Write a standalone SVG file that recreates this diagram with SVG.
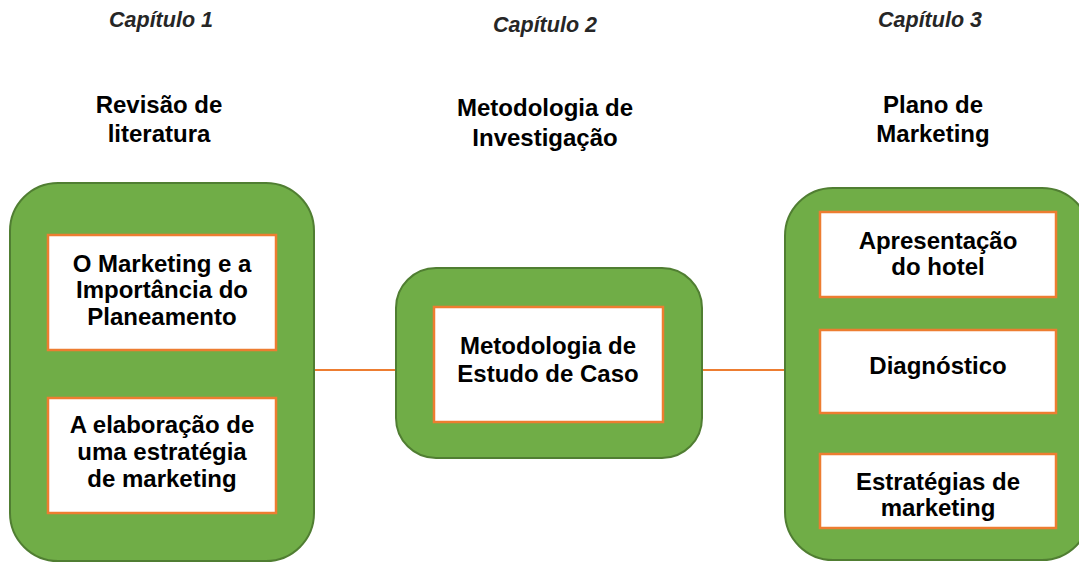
<svg xmlns="http://www.w3.org/2000/svg" width="1079" height="565" viewBox="0 0 1079 565">
<style>
.outer{fill:#70AD47;stroke:#507E32;stroke-width:2}
.inner{fill:#FFFFFF;stroke:#ED7D31;stroke-width:2.5}
.conn{stroke:#ED7D31;stroke-width:2;fill:none}
text{font-family:"Liberation Sans",Arial,sans-serif;font-weight:bold;text-anchor:middle;fill:#000}
.cap{font-style:italic;font-size:21.5px;fill:#262626}
.hd{font-size:24px}
.t{font-size:24px}
</style>
<rect width="1079" height="565" fill="#fff"/>
<g id="connectors">
<line class="conn" x1="315" y1="370" x2="396" y2="370"/>
<line class="conn" x1="702" y1="370" x2="785" y2="370"/>
</g>
<g id="titles">
<text class="cap" x="161" y="27">Capítulo 1</text>
<text class="cap" x="545" y="32">Capítulo 2</text>
<text class="cap" x="930" y="27">Capítulo 3</text>
<text class="hd" x="159" y="113">Revisão de</text>
<text class="hd" x="159" y="142">literatura</text>
<text class="hd" x="545" y="116">Metodologia de</text>
<text class="hd" x="545" y="146">Investigação</text>
<text class="hd" x="933" y="113">Plano de</text>
<text class="hd" x="933" y="142">Marketing</text>
</g>
<g id="chapter1">
<rect class="outer" x="10" y="183" width="304" height="378" rx="48"/>
<g id="c1-box1">
<rect class="inner" x="48" y="235" width="228" height="115"/>
<text class="t" x="162" y="272">O Marketing e a</text>
<text class="t" x="162" y="298">Importância do</text>
<text class="t" x="162" y="325">Planeamento</text>
</g>
<g id="c1-box2">
<rect class="inner" x="48" y="398" width="228" height="115"/>
<text class="t" x="162" y="433">A elaboração de</text>
<text class="t" x="162" y="460">uma estratégia</text>
<text class="t" x="162" y="487">de marketing</text>
</g>
</g>
<g id="chapter2">
<rect class="outer" x="396" y="268" width="306" height="190" rx="40"/>
<g id="c2-box1">
<rect class="inner" x="434" y="307" width="229" height="115"/>
<text class="t" x="548" y="354">Metodologia de</text>
<text class="t" x="548" y="382">Estudo de Caso</text>
</g>
</g>
<g id="chapter3">
<rect class="outer" x="785" y="188" width="305" height="372" rx="48"/>
<g id="c3-box1">
<rect class="inner" x="820" y="212" width="236" height="85"/>
<text class="t" x="938" y="249">Apresentação</text>
<text class="t" x="938" y="275">do hotel</text>
</g>
<g id="c3-box2">
<rect class="inner" x="820" y="330" width="236" height="83"/>
<text class="t" x="938" y="374">Diagnóstico</text>
</g>
<g id="c3-box3">
<rect class="inner" x="820" y="454" width="236" height="74"/>
<text class="t" x="938" y="490">Estratégias de</text>
<text class="t" x="938" y="516">marketing</text>
</g>
</g>
</svg>
